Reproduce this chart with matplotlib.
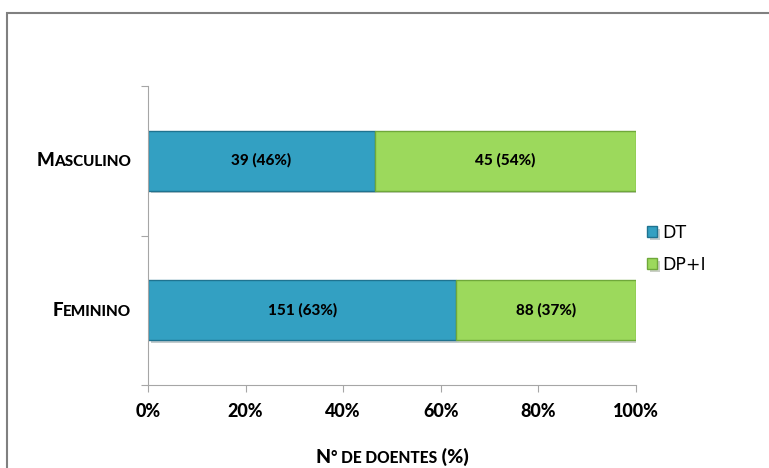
import matplotlib
matplotlib.use('agg')
import matplotlib.pyplot as plt
import matplotlib.patheffects as pe
from matplotlib.patches import Rectangle
from matplotlib.offsetbox import TextArea, HPacker, AnnotationBbox
import numpy as np

# dados (de baixo para cima)
categorias = ['Feminino', 'Masculino']
dt = [151, 39]
dp_i = [88, 45]
series = ['DT', 'DP+I']
xticks = [0, 20, 40, 60, 80, 100]

cor_dt = '#33a0c2'
cor_dp = '#9cd95c'
borda_dt = '#1f7390'
borda_dp = '#6fa83a'
W = 900

def small_caps(texto, big=13.5, small=11, fam='Lato'):
    # primeira letra grande, resto em maiusculas pequenas
    partes = [TextArea(texto[0], textprops=dict(size=big, weight=W, family=fam)),
              TextArea(texto[1:].upper(), textprops=dict(size=small, weight=W, family=fam))]
    return HPacker(children=partes, align='baseline', pad=0, sep=0)

fig = plt.figure(figsize=(7.69, 4.68), dpi=100)
ax = fig.add_axes([148/769, 1-385/468, 488/769, 299/468])

tot = np.array(dt) + np.array(dp_i)
p_dt = 100*np.array(dt)/tot
p_dp = 100*np.array(dp_i)/tot
ypos = np.array([0.5, 1.5])

sombra = [pe.SimplePatchShadow(offset=(2, -2), alpha=0.25), pe.Normal()]
b1 = ax.barh(ypos, p_dt, height=0.4, color=cor_dt, edgecolor=borda_dt, linewidth=1.0, label=series[0])
b2 = ax.barh(ypos, p_dp, left=p_dt, height=0.4, color=cor_dp, edgecolor=borda_dp, linewidth=1.0, label=series[1])
for r in list(b1) + list(b2):
    r.set_path_effects(sombra)

for i in range(len(categorias)):
    ax.text(p_dt[i]/2, ypos[i], '%d (%d%%)' % (dt[i], round(p_dt[i])), ha='center', va='center',
            fontsize=11, fontweight=W, family='Lato')
    ax.text(p_dt[i]+p_dp[i]/2, ypos[i], '%d (%d%%)' % (dp_i[i], round(p_dp[i])), ha='center', va='center',
            fontsize=11, fontweight=W, family='Lato')

ax.set_xlim(0, 100)
ax.set_ylim(0, 2)
ax.set_xticks(xticks)
ax.set_xticklabels(['%d%%' % v for v in xticks], fontsize=13, fontweight=W, family='Lato')
ax.set_yticks([0, 1, 2])
ax.set_yticklabels([])
for s in ['top', 'right']:
    ax.spines[s].set_visible(False)
for s in ['left', 'bottom']:
    ax.spines[s].set_color('#a6a6a6')
ax.tick_params(axis='both', colors='#a6a6a6', length=5, direction='out', labelcolor='black')
ax.tick_params(axis='x', pad=8)

# rotulos das categorias
for i, c in enumerate(categorias):
    ab = AnnotationBbox(small_caps(c), (-0.035, ypos[i]), xycoords=('axes fraction', 'data'),
                        box_alignment=(1, 0.5), frameon=False, annotation_clip=False)
    ax.add_artist(ab)

# titulo do eixo x
xl = HPacker(children=[TextArea('N', textprops=dict(size=14, weight=W, family='Lato')),
                       TextArea('\u00b0 DE DOENTES', textprops=dict(size=11.2, weight=W, family='Lato')),
                       TextArea(' (%)', textprops=dict(size=14, weight=W, family='Lato'))],
             align='baseline', pad=0, sep=0)
ax.add_artist(AnnotationBbox(xl, (0.5, -0.24), xycoords='axes fraction', box_alignment=(0.5, 0.5),
                             frameon=False, annotation_clip=False))

leg = ax.legend(loc='center left', bbox_to_anchor=(0.99, 0.455), frameon=False,
                handlelength=0.6, handleheight=0.6, handletextpad=0.3, labelspacing=0.8,
                prop=dict(family='DejaVu Sans', size=12.5))

# moldura exterior
fig.add_artist(Rectangle((7/769, -0.2), 1.2, 1.2-13/468, transform=fig.transFigure, fill=False,
                         edgecolor='#808080', linewidth=1.5, clip_on=False))

plt.savefig('out.png', dpi=100)
